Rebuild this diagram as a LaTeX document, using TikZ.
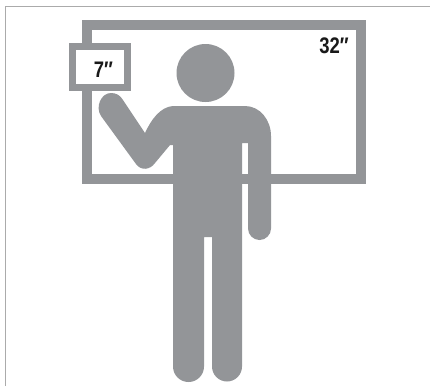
\documentclass[tikz,border=0pt]{standalone}
\usepackage{fontspec}
\setmainfont{Liberation Sans}
\definecolor{figgray}{HTML}{939598}
\definecolor{rulegray}{HTML}{ABABAB}
\tikzset{
  screen/.style={draw=figgray,fill=white,line width=#1,line join=miter},
  figure/.style={fill=figgray},
  sizelabel/.style={inner sep=0pt,text=black!90,font=\bfseries\fontsize{22.5}{22.5}\selectfont,xscale=.82}
}
\begin{document}
\begin{tikzpicture}[x=1pt,y=-1pt]
\useasboundingbox (0,0) rectangle (430,386);
\draw[rulegray,line width=1.5pt] (5.5,386) -- (5.5,6.5) -- (430,6.5);
% large screen
\node[screen=10pt,minimum width=274pt,minimum height=154pt,inner sep=0pt,anchor=center] (big) at (224,102) {};
% small screen
\node[screen=7pt,minimum width=55.5pt,minimum height=41.5pt,inner sep=0pt,anchor=center] (small) at (100,67) {};
\node[sizelabel] (seven) at (103.5,69.5) {7″};
\node[sizelabel] (thirtytwo) at (334,46) {32″};
% head
\fill[figure] (205.5,73) circle (29);
% body with raised arm
\fill[figure]
  (173,106) -- (245,106)
  .. controls (260,106) and (271,120) .. (271,136)
  -- (271,228.5) arc[start angle=0,end angle=180,radius=11.5]
  -- (248,143) -- (242,143)
  -- (242,366.5) arc[start angle=0,end angle=180,radius=15]
  -- (212,237) -- (204,237)
  -- (204,366.5) arc[start angle=0,end angle=180,radius=15.5]
  -- (173,145) -- (170,145)
  -- (155,163) .. controls (150,170) and (141,171) .. (136,164)
  -- (101,116) .. controls (95,107) and (101,93) .. (111,93)
  .. controls (116,93) and (120,95) .. (123,100)
  -- (145,133) .. controls (151,120) and (160,107) .. (173,106) -- cycle;
\end{tikzpicture}
\end{document}
